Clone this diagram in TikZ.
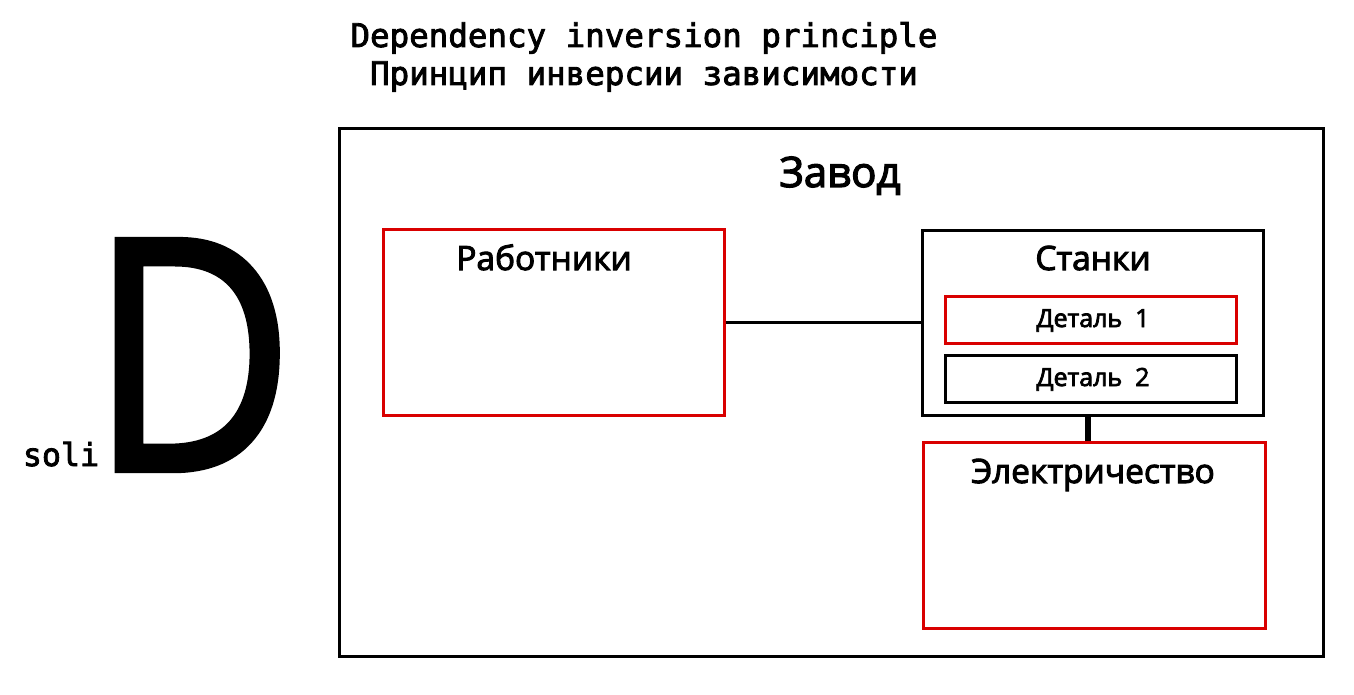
\documentclass[tikz,border=0pt]{standalone}
\usepackage{fontspec}
\setmainfont{Open Sans}
\newfontfamily\monofont[FakeBold=2.5]{DejaVu Sans Mono}
\newfontfamily\labelfont[FakeBold=3]{Open Sans}
\newfontfamily\bigfont[FakeBold=2]{Open Sans}
\tikzset{
  redbox/.style={draw=red!85!black, line width=3pt, rectangle, inner sep=0pt},
  blackbox/.style={draw=black, line width=3pt, rectangle, inner sep=0pt},
  lbl/.style={inner sep=0pt, anchor=base}
}
\begin{document}
\begin{tikzpicture}[x=1pt, y=-1pt]
  \useasboundingbox (0,0) rectangle (1354,695);

  % title
  \node (title1) at (644,47) [lbl] {\monofont\fontsize{32.5}{38}\selectfont Dependency inversion principle};
  \node (title2) at (644,85) [lbl] {\monofont\fontsize{32.5}{38}\selectfont Принцип инверсии зависимости};

  % letter
  \node (bigD) at (192,470) [lbl, inner xsep=-12pt, xscale=0.87] {\bigfont\fontsize{322}{322}\selectfont D};
  \node (soli) at (61,466) [lbl] {\monofont\fontsize{31.6}{36}\selectfont soli};

  % factory
  \node (factory) at (831,392.5) [blackbox, minimum width=984pt, minimum height=527pt] {};
  \node (factoryl) at (840,187) [lbl] {\labelfont\fontsize{42}{48}\selectfont Завод};

  \node (workers) at (553.5,322) [redbox, minimum width=341pt, minimum height=186pt] {};
  \node (workersl) at (544,270) [lbl] {\labelfont\fontsize{33.5}{40}\selectfont Работники};

  \node (machines) at (1092.5,322.5) [blackbox, minimum width=341pt, minimum height=185pt] {};
  \node (machinesl) at (1093,270) [lbl] {\labelfont\fontsize{33.5}{40}\selectfont Станки};
  \node (part1) at (1090.5,319.5) [redbox, minimum width=291pt, minimum height=47pt] {};
  \node (part1l) at (1093,327) [lbl] {\labelfont\fontsize{25}{30}\selectfont Деталь~~1};
  \node (part2) at (1090.5,378.5) [blackbox, minimum width=291pt, minimum height=47pt] {};
  \node (part2l) at (1093,386) [lbl] {\labelfont\fontsize{25}{30}\selectfont Деталь~~2};

  \node (power) at (1094,535) [redbox, minimum width=342pt, minimum height=186pt] {};
  \node (powerl) at (1093,483) [lbl] {\labelfont\fontsize{33.5}{40}\selectfont Электричество};

  \draw [line width=3pt] (workers.east) -- (workers.east -| machines.west);
  \draw [line width=6pt] (machines.south -| 1088,0) -- (power.north -| 1088,0);
\end{tikzpicture}
\end{document}
